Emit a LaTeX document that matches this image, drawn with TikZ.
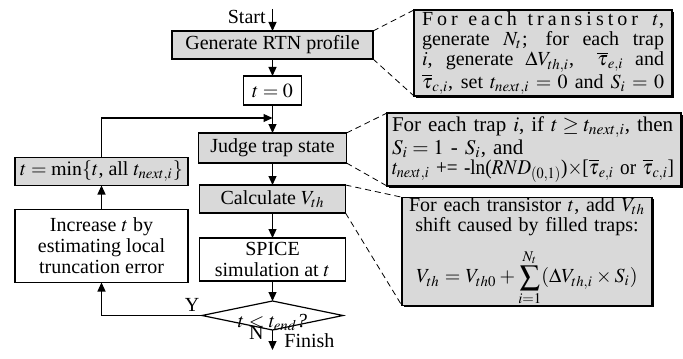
\documentclass[tikz,border=0pt]{standalone}
\usepackage{amsmath}
\usepackage{graphicx}
\usepackage{mathptmx}
\usepackage{fontspec}
\setmainfont{Liberation Serif}
\usetikzlibrary{shapes,arrows.meta,positioning,shadows}

\newcommand{\fullline}[1]{\makebox[121pt][s]{#1}}
\thickmuskip=4mu plus 2mu

\begin{document}
\begin{tikzpicture}[x=0.5pt, y=-0.5pt,
    block/.style={rectangle, draw, line width=0.6pt, fill=gray!30, align=center, inner sep=1pt, outer sep=0pt, font=\fontsize{10pt}{10.5pt}\selectfont},
    plain/.style={block, fill=white},
    note/.style={rectangle, draw, line width=0.7pt, fill=gray!30, inner sep=0pt, outer sep=0pt,
        font=\fontsize{10.5pt}{10pt}\selectfont,
        drop shadow={shadow xshift=0.8pt, shadow yshift=-0.8pt, fill=black, opacity=1}},
    lbl/.style={inner sep=0pt, font=\fontsize{10pt}{10.5pt}\selectfont},
    arrow/.style={-{Triangle[length=4.5pt,width=4pt]}, line width=0.6pt},
    callout/.style={dash pattern=on 3pt off 2pt, line width=0.4pt}]

    \useasboundingbox (0,0) rectangle (683,358);

    % main column
    \node[block, minimum width=100.5pt, minimum height=14pt] (gen) at (272.5,45) {Generate RTN profile};
    \node[plain, minimum width=29pt, minimum height=14.5pt, below=8.5pt of gen] (init) {$t = 0$};
    \node[block, minimum width=74pt, minimum height=15pt, below=14pt of init] (judge) {Judge trap state};
    \node[block, minimum width=73pt, minimum height=14pt, below=11pt of judge] (calc) {Calculate $V_{th}$};
    \node[plain, minimum width=73pt, minimum height=21.5pt, below=12.5pt of calc] (spice) {SPICE\\simulation at $t$};
    \node[diamond, draw, fill=white, line width=0.6pt, aspect=4.9, inner sep=0pt, outer sep=0pt, text height=6pt, text depth=1pt,
        minimum width=70.5pt, minimum height=14.5pt, font=\fontsize{10pt}{10.5pt}\selectfont,
        below=10pt of spice] (check) {\raisebox{-3.3pt}{$t < t_{end}$\textit{?}}};

    % loop column
    \node[block, minimum width=86.5pt, minimum height=14pt] (tmin) at (101.5,171.5) {$t = \min\{t$, all $t_{next,i}\}$};
    \node[plain, minimum width=86.5pt, minimum height=36.5pt, below=12pt of tmin] (incr) {Increase $t$ by\\estimating local\\truncation error};

    % side notes
    \node[note, font=\fontsize{10pt}{10pt}\selectfont, minimum width=129pt, minimum height=43pt, align=left] (note1) at (543,53) {%
        \fullline{\addfontfeatures{LetterSpace=20}For each transistor\/ $t$,}\\
        \fullline{generate $N_t$; for each trap}\\
        \fullline{$i$, generate $\Delta V_{th,i}$,\ \ $\overline{\tau}_{e,i}$ and}\\
        \fullline{$\overline{\tau}_{c,i}$, set $t_{next,i} = 0$ and $S_i = 0$}};
    \node[note, text width=142pt, minimum width=147pt, minimum height=36.5pt, align=left] (note2) at (534,149.5) {%
        For each trap $i$, if $t \geq t_{next,i}$, then\\
        $S_i = 1$ - $S_i$, and\\
        \resizebox{141pt}{\height}{$t_{next,i}$ += -ln($RND_{(0,1)}$)$\times$[$\overline{\tau}_{e,i}$ or $\overline{\tau}_{c,i}$]}};
    \node[note, font=\fontsize{10pt}{10pt}\selectfont, text width=124pt, minimum width=125pt, minimum height=46.5pt, align=center] (note3) at (527,251.5) {%
        For each transistor $t$, add $V_{th}$\\
        shift caused by filled traps:\\[6pt]
        $\displaystyle V_{th} = V_{th0} + \sum_{i=1}^{N_t}(\Delta V_{th,i} \times S_i)$};

    % labels
    \node[lbl, anchor=east] (start) at (266,17) {Start};
    \node[lbl, anchor=west] (finish) at (284,341) {Finish};
    \node[lbl, anchor=east] (no) at (264,333) {N};
    \node[lbl] (yes) at (192,305) {Y};
    \coordinate (top) at (272.5,9);
    \coordinate (bottom) at (272.5,350);
    \coordinate (join) at (272.5,118);

    \draw[arrow] (top) -- (gen);
    \draw[arrow] (gen) -- (init);
    \draw[arrow] (init) -- (judge);
    \draw[arrow] (judge) -- (calc);
    \draw[arrow] (calc) -- (spice);
    \draw[arrow] (spice) -- (check);
    \draw[arrow] (check) -- (bottom);
    \draw[arrow] (check) -| (incr);
    \draw[arrow] (incr) -- (tmin);
    \draw[arrow] (tmin) |- (join);

    \draw[callout] (gen.north east) -- (note1.north west);
    \draw[callout] (gen.south east) -- (note1.south west);
    \draw[callout] (judge.north east) -- (note2.north west);
    \draw[callout] (judge.south east) -- (note2.south west);
    \draw[callout] (calc.north east) -- (note3.north west);
    \draw[callout] (calc.south east) -- (note3.south west);
\end{tikzpicture}
\end{document}
